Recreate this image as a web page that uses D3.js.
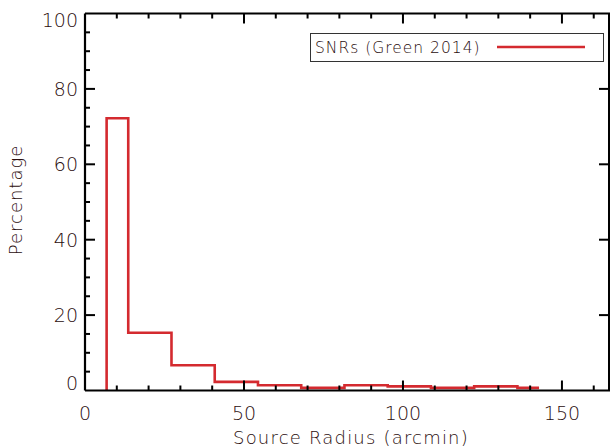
<!DOCTYPE html>
<html><head><meta charset="utf-8">
<script src="https://cdn.jsdelivr.net/npm/d3@7"></script>
<style>body{margin:0;background:#fff}svg{display:block}text{font-family:"DejaVu Sans",sans-serif;font-weight:200;fill:#2a0d0d}</style>
</head><body><div id="c"></div>
<script>
const binCenters = [6.8, 20.4, 34.0, 47.6, 61.2, 74.8, 88.4, 102.0, 115.6, 129.2, 142.8];
const percentages = [72.2, 15.3, 6.7, 2.3, 1.4, 0.7, 1.4, 1.1, 0.7, 1.1, 0.7];
const xTicks = [0, 50, 100, 150];
const yTicks = [0, 20, 40, 60, 80, 100];
const seriesName = "SNRs (Green 2014)";
const xTitle = "Source Radius (arcmin)";
const yTitle = "Percentage";

const W = 610, H = 448;
const L = 85, R = 609, T = 13.5, B = 390.5;
const x = d3.scaleLinear().domain([0, 164.8]).range([L, R]);
const y = d3.scaleLinear().domain([0, 100]).range([B, T]);
const svg = d3.select("#c").append("svg").attr("width", W).attr("height", H);

// histogram step path (IDL psym=10 style)
const half = (binCenters[1] - binCenters[0]) / 2;
const pts = [[binCenters[0], 0]];
binCenters.forEach((c, i) => {
  const x0 = i === 0 ? c : c - half;
  const x1 = i === binCenters.length - 1 ? c : c + half;
  pts.push([x0, percentages[i]], [x1, percentages[i]]);
});
svg.append("path")
  .attr("d", d3.line().x(d => x(d[0])).y(d => y(d[1]))(pts))
  .attr("fill", "none").attr("stroke", "#d42a2f").attr("stroke-width", 2.6)
  .attr("stroke-linejoin", "miter");

const ax = svg.append("g").attr("stroke", "#000");
ax.append("line").attr("x1", L).attr("x2", L).attr("y1", T).attr("y2", B).attr("stroke-width", 2.2);
ax.append("line").attr("x1", L).attr("x2", W).attr("y1", B).attr("y2", B).attr("stroke-width", 2.2);
ax.append("line").attr("x1", L).attr("x2", W).attr("y1", T).attr("y2", T).attr("stroke-width", 2);
ax.append("line").attr("x1", R).attr("x2", R).attr("y1", T).attr("y2", B).attr("stroke-width", 2);

d3.range(10, 165, 10).forEach(v => {
  const len = v % 50 === 0 ? 10 : 5;
  ax.append("line").attr("x1", x(v)).attr("x2", x(v)).attr("y1", B).attr("y2", B - len).attr("stroke-width", 2);
  ax.append("line").attr("x1", x(v)).attr("x2", x(v)).attr("y1", T).attr("y2", T + len).attr("stroke-width", 2);
});
d3.range(5, 100, 5).forEach(v => {
  const major = v % 20 === 0;
  const len = major ? 10 : 5;
  ax.append("line").attr("x1", L).attr("x2", L + len).attr("y1", y(v)).attr("y2", y(v)).attr("stroke-width", 2);
  if (major) ax.append("line").attr("x1", R).attr("x2", R - len).attr("y1", y(v)).attr("y2", y(v)).attr("stroke-width", 2);
});

svg.selectAll(".yl").data(yTicks).enter().append("text")
  .attr("x", 78).attr("text-anchor", "end")
  .attr("y", d => d === 0 ? y(d) - 1 : d === 100 ? y(d) + 13 : y(d) + 7)
  .attr("font-size", 19).text(d => d);
svg.selectAll(".xl").data(xTicks).enter().append("text")
  .attr("x", d => x(d)).attr("y", 420).attr("text-anchor", "middle")
  .attr("font-size", 19).text(d => d);

svg.append("text").attr("x", 351).attr("y", 444).attr("text-anchor", "middle")
  .attr("font-size", 18).attr("letter-spacing", 1.2).text(xTitle);
svg.append("text").attr("transform", "translate(22,200) rotate(-90)").attr("text-anchor", "middle")
  .attr("font-size", 18).attr("letter-spacing", 1).text(yTitle);

const lg = svg.append("g");
lg.append("rect").attr("x", 310.5).attr("y", 33.5).attr("width", 293).attr("height", 28)
  .attr("fill", "#fff").attr("stroke", "#333").attr("stroke-width", 1);
lg.append("text").attr("x", 315).attr("y", 53).attr("font-size", 15.5).attr("letter-spacing", 1).text(seriesName);
lg.append("line").attr("x1", 497).attr("x2", 585).attr("y1", 47).attr("y2", 47)
  .attr("stroke", "#d42a2f").attr("stroke-width", 2.6);
</script></body></html>
